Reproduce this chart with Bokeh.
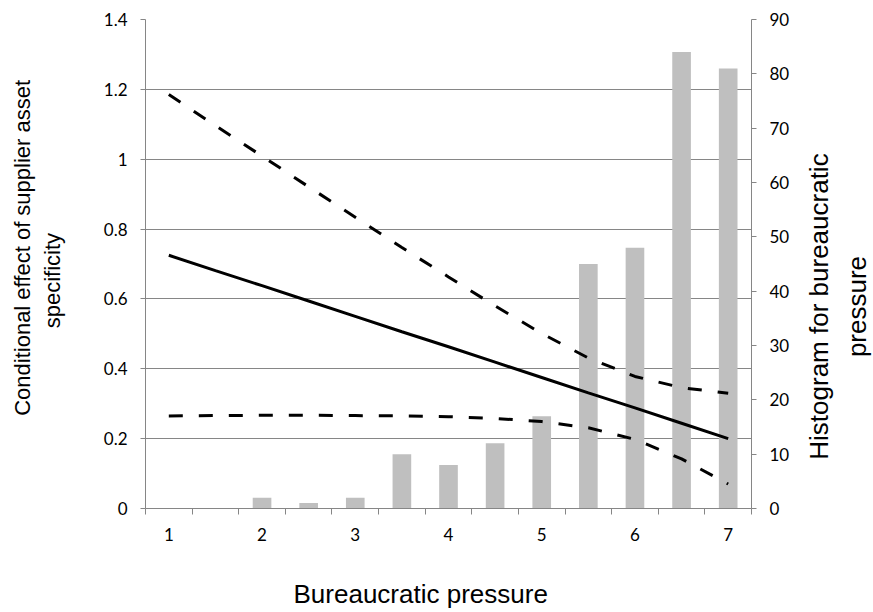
import math
from bokeh.plotting import figure
from bokeh.layouts import row
from bokeh.models import Range1d, LinearAxis, FixedTicker, PrintfTickFormatter, Title, Label
from bokeh.embed import file_html
from bokeh.resources import INLINE

# ---- data ----
pressure = [1, 1.5, 2, 2.5, 3, 3.5, 4, 4.5, 5, 5.5, 6, 6.5, 7]
effect = [0.725, 0.681, 0.638, 0.594, 0.550, 0.506, 0.463, 0.419, 0.375, 0.331, 0.288, 0.244, 0.200]
upper_ci = [1.185, 1.096, 1.009, 0.921, 0.834, 0.747, 0.663, 0.580, 0.501, 0.431, 0.378, 0.346, 0.330]
lower_ci = [0.265, 0.266, 0.267, 0.267, 0.266, 0.265, 0.263, 0.258, 0.249, 0.231, 0.198, 0.142, 0.070]
hist_counts = [0, 0, 2, 1, 2, 10, 8, 12, 17, 45, 48, 84, 81]
x_tick_values = [1, 2, 3, 4, 5, 6, 7]
left_ticks = [0, 0.2, 0.4, 0.6, 0.8, 1, 1.2, 1.4]
right_ticks = [0, 10, 20, 30, 40, 50, 60, 70, 80, 90]

GRAY = "#868686"
TICK_FONT = "Lato"
TITLE_FONT = "Liberation Sans"


def side_panel(width):
    f = figure(frame_width=width, frame_height=489,
               min_border_left=0, min_border_right=0,
               min_border_top=19, min_border_bottom=103,
               x_range=Range1d(0, 1), y_range=Range1d(0, 1),
               output_backend="svg", toolbar_location=None,
               background_fill_color="white", border_fill_color="white")
    f.outline_line_color = None
    f.grid.visible = False
    f.axis.visible = False
    return f


def vtitle(f, txt, x, y, size):
    f.add_layout(Label(x=x, y=y, text=txt, angle=math.pi / 2,
                       text_align="center", text_baseline="middle",
                       text_font=TITLE_FONT, text_font_size=size,
                       text_color="black"))


p = figure(frame_width=606, frame_height=489,
           min_border_left=73, min_border_right=45,
           min_border_top=19, min_border_bottom=103,
           x_range=Range1d(0.75, 7.25), y_range=Range1d(0, 1.4),
           output_backend="svg", toolbar_location=None,
           background_fill_color="white", border_fill_color="white")
p.outline_line_color = None
p.extra_y_ranges = {"hist": Range1d(0, 90)}

# histogram bars (right axis)
p.vbar(x=pressure, top=hist_counts, width=0.2, y_range_name="hist",
       fill_color="#bfbfbf", line_color=None)

# conditional effect and CI lines
p.line(pressure, upper_ci, line_color="black", line_width=3, line_dash="14 16")
p.line(pressure, lower_ci, line_color="black", line_width=3, line_dash="14 16")
p.line(pressure, effect, line_color="black", line_width=3)

# x axis
xa = p.xaxis[0]
half = [0.75 + 0.5 * i for i in range(14)]
xa.ticker = FixedTicker(ticks=x_tick_values, minor_ticks=half)
xa.axis_line_color = GRAY
xa.major_tick_line_color = None
xa.major_tick_out = 0
xa.major_tick_in = 0
xa.minor_tick_line_color = GRAY
xa.minor_tick_out = 6
xa.minor_tick_in = 0
xa.major_label_standoff = 13
xa.major_label_text_font = TICK_FONT
xa.major_label_text_font_size = "17px"
xa.major_label_text_color = "black"

# left axis
ya = p.yaxis[0]
ya.ticker = FixedTicker(ticks=left_ticks)
ya.formatter = PrintfTickFormatter(format="%g")
ya.axis_line_color = GRAY
ya.major_tick_line_color = GRAY
ya.major_tick_out = 5
ya.major_tick_in = 0
ya.minor_tick_line_color = None
ya.major_label_standoff = 13
ya.major_label_text_font = TICK_FONT
ya.major_label_text_font_size = "17px"
ya.major_label_text_color = "black"

# right axis (ticks only)
ra = LinearAxis(y_range_name="hist", ticker=FixedTicker(ticks=right_ticks))
ra.axis_line_color = GRAY
ra.major_tick_line_color = GRAY
ra.major_tick_out = 5
ra.major_tick_in = 0
ra.minor_tick_line_color = None
ra.major_label_standoff = 13
ra.major_label_text_font = TICK_FONT
ra.major_label_text_font_size = "17px"
ra.major_label_text_color = "black"
p.add_layout(ra, "right")

# x axis title
p.add_layout(Title(text="Bureaucratic pressure", align="left", offset=148,
                   text_font=TITLE_FONT, text_font_size="26px",
                   text_font_style="normal", text_color="black",
                   standoff=66), "below")

# grid
p.xgrid.visible = False
p.ygrid.ticker = FixedTicker(ticks=left_ticks)
p.ygrid.grid_line_color = GRAY

# side panels carrying the vertical titles (read bottom-to-top)
pl = side_panel(72)
vtitle(pl, "Conditional effect of supplier asset", 0.306, 0.533, "22px")
vtitle(pl, "specificity", 0.722, 0.466, "22px")

pr = side_panel(76)
vtitle(pr, "Histogram for bureaucratic", 0.30, 0.413, "26px")
vtitle(pr, "pressure", 0.79, 0.413, "26px")

layout = row(pl, p, pr)
open("out.html", "w").write(file_html(layout, INLINE))
